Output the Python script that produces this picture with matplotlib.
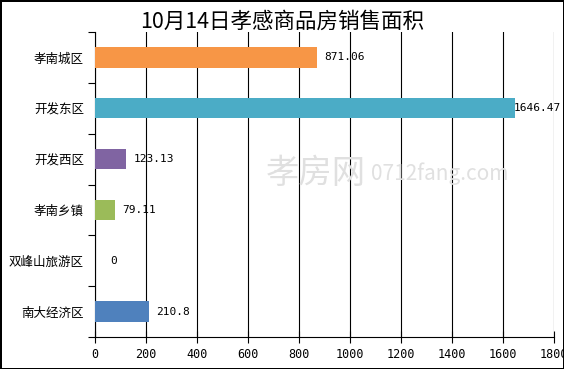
import matplotlib.pyplot as plt
import numpy as np

plt.rcParams['font.family'] = ['Noto Sans CJK SC', 'DejaVu Sans']

categories = ['孝南城区', '开发东区', '开发西区', '孝南乡镇', '双峰山旅游区', '南大经济区']
values = [871.06, 1646.47, 123.13, 79.11, 0, 210.8]
colors = ['#F79646', '#4BACC6', '#8064A2', '#9BBB59', '#4F81BD', '#4F81BD']
value_labels = ['871.06', '1646.47', '123.13', '79.11', '0', '210.8']
xticks = [0, 200, 400, 600, 800, 1000, 1200, 1400, 1600, 1800]

fig = plt.figure(figsize=(5.64, 3.69), dpi=100)
fig.patch.set_edgecolor('black')
fig.patch.set_linewidth(2)
ax = fig.add_axes([95 / 564, 32 / 369, 459 / 564, 305 / 369])

y = np.arange(len(categories))
ax.barh(y, values, height=0.4, color=colors, zorder=3)
ax.set_ylim(len(categories) - 0.5, -0.5)
ax.set_xlim(0, 1800)
ax.set_xticks(xticks)
ax.set_xticklabels([str(t) for t in xticks], fontsize=8.5, family='DejaVu Sans Mono')
ax.set_yticks(y)
ax.set_yticklabels(categories, fontsize=9)
ax.tick_params(axis='y', length=0, pad=8)
ax.set_yticks(np.arange(len(categories) + 1) - 0.5, minor=True)
ax.tick_params(axis='y', which='minor', length=5, direction='out', width=0.8)
ax.tick_params(axis='x', length=8, direction='inout', width=0.8, pad=4)
ax.grid(axis='x', color='black', linewidth=0.8, zorder=0)
for s in ['top', 'right']:
    ax.spines[s].set_visible(False)
ax.spines['left'].set_linewidth(0.8)
ax.spines['bottom'].set_linewidth(0.8)

for yi, v, lab in zip(y, values, value_labels):
    if v > 1500:
        dx = -1
    elif v > 0:
        dx = 5
    else:
        dx = 11
    ax.annotate(lab, xy=(v, yi), xytext=(dx, 0), textcoords='offset points',
                va='center', ha='left', fontsize=8, family='DejaVu Sans Mono', zorder=4,
                annotation_clip=False)

fig.text(0.5, 0.94, '10月14日孝感商品房销售面积', ha='center', va='center',
         fontsize=15.5, fontweight='normal')
fig.text(0.56, 0.53, '孝房网', ha='center', va='center', fontsize=24,
         color='#e0e0e0', zorder=0)
fig.text(0.78, 0.53, '0712fang.com', ha='center', va='center', fontsize=15,
         color='#e0e0e0', zorder=0)

fig.savefig('out.png', dpi=100, edgecolor=fig.get_edgecolor())
